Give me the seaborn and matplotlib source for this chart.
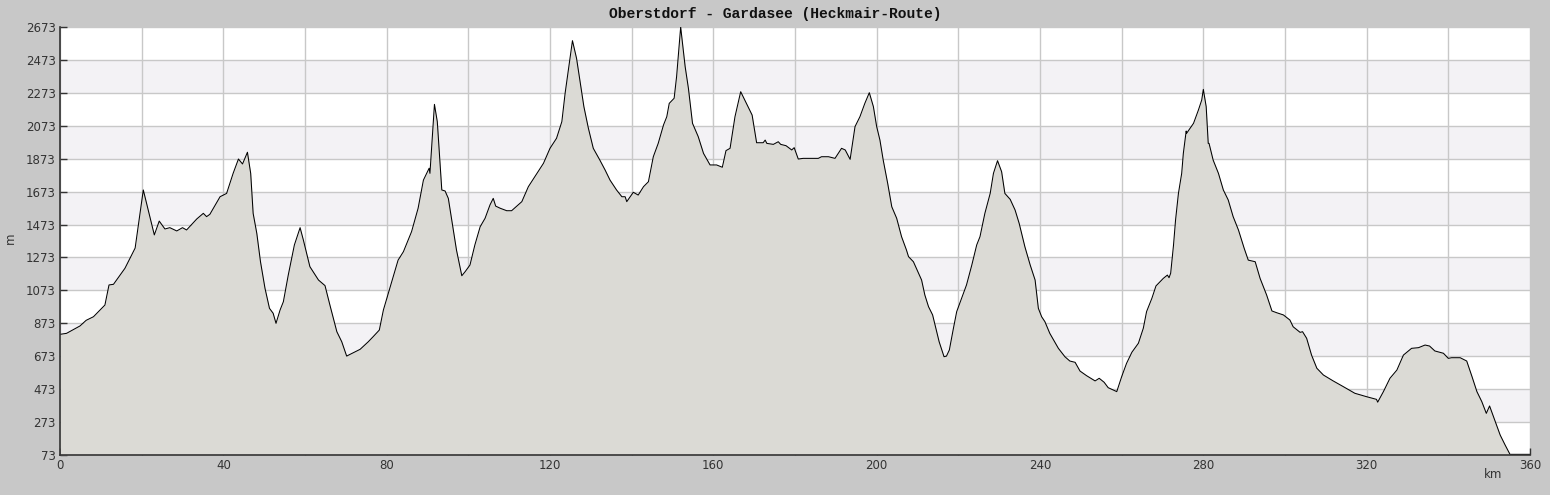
import matplotlib
matplotlib.use("Agg")
import matplotlib.pyplot as plt
from matplotlib.ticker import MultipleLocator, FixedLocator, FuncFormatter
import seaborn as sns
import pandas as pd
import numpy as np

title = "Oberstdorf - Gardasee (Heckmair-Route)"
x_label = "km"
y_label = "m"

km = [0.0, 1.6, 4.9, 6.4, 8.2, 11.0, 12.0, 13.1, 15.9, 18.4, 20.4, 23.1, 24.3, 25.7, 26.9, 28.6, 30.0, 31.0,
      33.5, 35.1, 35.9, 36.7, 39.2, 40.8, 42.4, 43.7, 44.7, 45.9, 46.7, 47.3, 48.2, 49.1, 50.2, 51.3, 52.2,
      52.9, 53.9, 54.7, 55.9, 57.4, 58.8, 59.6, 61.2, 63.3, 64.9, 66.1, 67.8, 69.0, 70.2, 73.5, 75.5, 76.7,
      78.2, 79.2, 80.4, 81.6, 82.8, 84.1, 86.1, 87.7, 89.0, 90.4, 90.6, 91.7, 92.4, 93.5, 94.3, 95.1, 96.2,
      97.1, 98.4, 99.2, 100.4, 101.6, 102.9, 104.1, 105.3, 106.1, 106.7, 107.8, 109.4, 110.6, 113.1, 114.7,
      118.4, 120.0, 121.6, 122.9, 123.7, 125.5, 126.5, 128.3, 129.4, 130.6, 132.2, 133.5, 134.7, 136.3,
      137.6, 138.4, 138.8, 140.4, 141.6, 142.9, 144.1, 145.3, 146.5, 147.8, 148.6, 149.2, 150.4, 151.0,
      152.0, 153.1, 153.9, 154.9, 156.3, 157.6, 159.2, 160.8, 162.2, 163.1, 164.1, 165.3, 166.7, 168.3,
      169.5, 170.6, 172.2, 172.7, 173.1, 174.7, 175.9, 176.5, 177.8, 179.2, 179.8, 180.8, 182.0, 185.7,
      186.5, 188.2, 189.8, 191.4, 192.3, 193.5, 194.7, 195.9, 197.1, 198.2, 199.2, 200.0, 200.8, 201.6,
      202.7, 203.7, 204.9, 206.1, 207.3, 207.8, 209.0, 211.0, 211.8, 212.7, 213.7, 214.5, 215.3, 216.5,
      217.1, 217.8, 218.8, 219.6, 220.8, 222.0, 223.3, 224.5, 225.3, 226.5, 227.8, 228.6, 229.6, 230.6,
      231.4, 232.7, 233.9, 234.9, 236.3, 237.6, 238.8, 239.6, 240.4, 241.2, 242.4, 244.5, 246.1, 247.3,
      248.6, 249.8, 251.4, 253.5, 254.5, 255.7, 256.7, 258.8, 260.0, 261.2, 262.5, 264.1, 265.3, 266.1,
      267.4, 268.4, 270.2, 271.2, 271.6, 272.0, 272.7, 273.2, 273.9, 274.7, 275.1, 275.8, 275.9, 277.6,
      278.8, 279.6, 280.0, 280.7, 281.2, 281.4, 282.4, 283.7, 284.9, 286.1, 287.3, 288.6, 290.0, 291.0,
      292.7, 293.9, 295.5, 296.8, 298.0, 299.6, 301.2, 302.0, 303.7, 304.3, 305.3, 306.5, 307.8, 309.4,
      311.8, 314.3, 317.1, 320.0, 322.4, 322.7, 324.1, 325.7, 327.4, 329.0, 331.0, 332.7, 334.3, 335.4,
      336.7, 338.8, 340.0, 340.8, 342.9, 344.5, 345.8, 347.0, 348.2, 349.3, 350.1, 351.5, 352.7, 353.9,
      355.1, 356.3, 360.0]

elev = [806, 812, 857, 891, 913, 984, 1106, 1110, 1207, 1330, 1683, 1410, 1494, 1446, 1454, 1434, 1454, 1440,
        1507, 1541, 1521, 1535, 1642, 1662, 1784, 1871, 1841, 1912, 1784, 1541, 1419, 1247, 1086, 964, 934,
        873, 954, 1004, 1166, 1349, 1454, 1379, 1217, 1136, 1102, 984, 822, 761, 674, 715, 761, 792,
        832, 954, 1055, 1156, 1257, 1308, 1430, 1572, 1743, 1815, 1784, 2203, 2098, 1683, 1677, 1632, 1460,
        1318, 1162, 1186, 1227, 1349, 1460, 1511, 1592, 1632, 1585, 1572, 1557, 1557, 1612, 1703,
        1845, 1936, 1997, 2098, 2270, 2590, 2483, 2189, 2058, 1936, 1865, 1804, 1743, 1683,
        1642, 1642, 1612, 1669, 1652, 1703, 1733, 1885, 1966, 2078, 2128, 2209, 2240, 2371,
        2673, 2432, 2300, 2088, 2007, 1905, 1835, 1835, 1821, 1922, 1936, 2128, 2280, 2199,
        2138, 1970, 1970, 1986, 1966, 1960, 1976, 1960, 1952, 1926, 1940, 1871, 1875, 1875,
        1885, 1885, 1875, 1936, 1926, 1869, 2068, 2128, 2209, 2274, 2189, 2068, 1986, 1865,
        1723, 1581, 1511, 1399, 1318, 1278, 1247, 1136, 1045, 974, 924, 843, 761, 670,
        674, 711, 843, 944, 1025, 1106, 1227, 1349, 1399, 1541, 1662, 1784, 1861, 1794,
        1662, 1626, 1561, 1480, 1338, 1227, 1136, 964, 913, 883, 812, 721, 670, 644,
        636, 583, 555, 523, 539, 515, 482, 458, 549, 630, 697, 752, 843, 944,
        1025, 1100, 1146, 1166, 1150, 1177, 1349, 1501, 1662, 1784, 1905, 2041, 2027, 2088,
        2169, 2229, 2294, 2189, 1966, 1966, 1865, 1784, 1683, 1622, 1521, 1440, 1329, 1257,
        1247, 1146, 1045, 948, 937, 924, 893, 852, 818, 822, 782, 680, 600, 559,
        523, 488, 448, 427, 411, 394, 458, 539, 589, 680, 721, 725, 741, 735,
        705, 691, 660, 664, 664, 644, 549, 458, 397, 326, 371, 275, 194, 134,
        77, 77, 77]

y_ticks = [73, 273, 473, 673, 873, 1073, 1273, 1473, 1673, 1873, 2073, 2273, 2473, 2673]
x_max = 360

df = pd.DataFrame({"km": km, "m": elev})

sns.set_style("white")
plt.rcParams["font.family"] = ["DejaVu Sans"]

fig = plt.figure(figsize=(15.5, 4.95), dpi=100, facecolor="#c8c8c8")
ax = fig.add_axes([60 / 1550, 1 - 455 / 495, 1470 / 1550, 428 / 495])
ax.set_facecolor("white")

# alternating bands
for i in range(len(y_ticks) - 1):
    if (len(y_ticks) - 2 - i) % 2 == 1:
        ax.axhspan(y_ticks[i], y_ticks[i + 1], color="#f3f2f5", zorder=0, lw=0)

ax.fill_between(df["km"], y_ticks[0], df["m"], color="#dbdad5", zorder=2, lw=0)
sns.lineplot(data=df, x="km", y="m", ax=ax, color="black", lw=0.75, zorder=3)

ax.set_xlim(0, x_max)
ax.set_ylim(y_ticks[0], y_ticks[-1])

ax.yaxis.set_major_locator(FixedLocator(y_ticks))
ax.yaxis.set_minor_locator(FixedLocator([t + 100 for t in y_ticks[:-1]]))
ax.xaxis.set_major_locator(MultipleLocator(20))
ax.xaxis.set_minor_locator(MultipleLocator(10))
ax.xaxis.set_major_formatter(FuncFormatter(lambda v, p: f"{int(v)}" if int(round(v)) % 40 == 0 else ""))

ax.grid(True, which="major", color="#c8c8c8", lw=1.0, zorder=1)
ax.set_axisbelow(True)

for s in ["top", "right"]:
    ax.spines[s].set_visible(False)
for s in ["left", "bottom"]:
    ax.spines[s].set_color("#333333")
    ax.spines[s].set_linewidth(1.2)
    ax.spines[s].set_zorder(4)

ax.tick_params(which="major", direction="in", length=5, width=1, color="#333333",
               labelsize=8.5, labelcolor="#333333", pad=3)
ax.tick_params(which="minor", direction="in", length=3, width=1, color="#333333")
ax.tick_params(axis="both", left=True, bottom=True)

ax.set_xlabel("")
ax.set_ylabel("")
fig.text(10 / 1550, 1 - 238 / 495, y_label, rotation=90, ha="center", va="center",
         fontsize=8.5, color="#333333")
fig.text(1493 / 1550, 1 - 475 / 495, x_label, ha="center", va="center",
         fontsize=8.5, color="#333333")
fig.text(775 / 1550, 1 - 14 / 495, title, ha="center", va="center",
         fontsize=10.5, fontweight="bold", family=["Liberation Mono", "DejaVu Sans Mono"], color="#111111")

fig.savefig("out.png", dpi=100, facecolor=fig.get_facecolor())
